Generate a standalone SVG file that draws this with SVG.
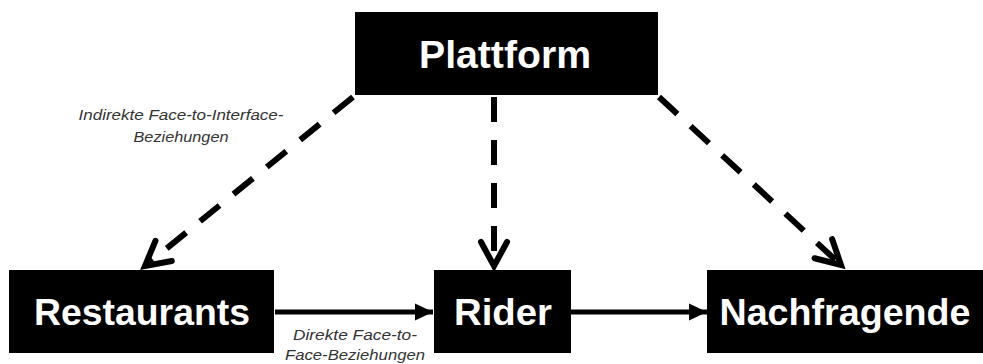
<svg xmlns="http://www.w3.org/2000/svg" width="983" height="364" viewBox="0 0 983 364">
<style>
.box{fill:#000}
.lbl{font-family:"Liberation Sans",Arial,sans-serif;font-weight:bold;fill:#fff;text-anchor:middle}
.note{font-family:"Liberation Sans",Arial,sans-serif;font-style:italic;font-size:14.5px;fill:#333;text-anchor:middle}
.dash{stroke:#000;stroke-width:6;fill:none;stroke-dasharray:25 18}
.solid{stroke:#000;stroke-width:5;fill:none}
</style>
<defs>
<marker id="chev" markerUnits="userSpaceOnUse" markerWidth="40" markerHeight="40" viewBox="-30 -20 40 40" refX="0" refY="0" orient="auto">
<path d="M-24,-13 L0,0 L-24,13" fill="none" stroke="#000" stroke-width="6" stroke-linejoin="miter" stroke-linecap="round"/>
</marker>
<marker id="tri" markerUnits="userSpaceOnUse" markerWidth="24" markerHeight="24" viewBox="0 -12 24 24" refX="18" refY="0" orient="auto">
<path d="M0,-8.5 L18,0 L0,8.5 z" fill="#000"/>
</marker>
</defs>
<rect width="983" height="364" fill="#fff"/>
<g id="connectors">
<line class="dash" x1="353" y1="97" x2="145" y2="266" marker-end="url(#chev)"/>
<line class="dash" x1="494" y1="97" x2="494" y2="266" marker-end="url(#chev)"/>
<line class="dash" x1="659" y1="97" x2="841" y2="265" marker-end="url(#chev)"/>
<line class="solid" x1="275" y1="312" x2="433" y2="312" marker-end="url(#tri)"/>
<line class="solid" x1="571" y1="312" x2="707" y2="312" marker-end="url(#tri)"/>
</g>
<g id="plattform">
<rect class="box" x="355" y="12" width="303" height="83"/>
<text class="lbl" x="505" y="68" font-size="38" textLength="172" lengthAdjust="spacingAndGlyphs">Plattform</text>
</g>
<g id="restaurants">
<rect class="box" x="9" y="270" width="265" height="83"/>
<text class="lbl" x="142" y="325" font-size="37" textLength="216" lengthAdjust="spacingAndGlyphs">Restaurants</text>
</g>
<g id="rider">
<rect class="box" x="434" y="270" width="137" height="83"/>
<text class="lbl" x="503" y="325" font-size="37" textLength="98" lengthAdjust="spacingAndGlyphs">Rider</text>
</g>
<g id="nachfragende">
<rect class="box" x="707" y="270" width="276" height="83"/>
<text class="lbl" x="845" y="325" font-size="37" textLength="251" lengthAdjust="spacingAndGlyphs">Nachfragende</text>
</g>
<g id="labels">
<text class="note" x="181" y="120" textLength="205" lengthAdjust="spacingAndGlyphs">Indirekte Face-to-Interface-</text>
<text class="note" x="181" y="142" textLength="95" lengthAdjust="spacingAndGlyphs">Beziehungen</text>
<text class="note" x="355" y="340" textLength="124" lengthAdjust="spacingAndGlyphs">Direkte Face-to-</text>
<text class="note" x="355" y="360" textLength="140" lengthAdjust="spacingAndGlyphs">Face-Beziehungen</text>
</g>
</svg>
